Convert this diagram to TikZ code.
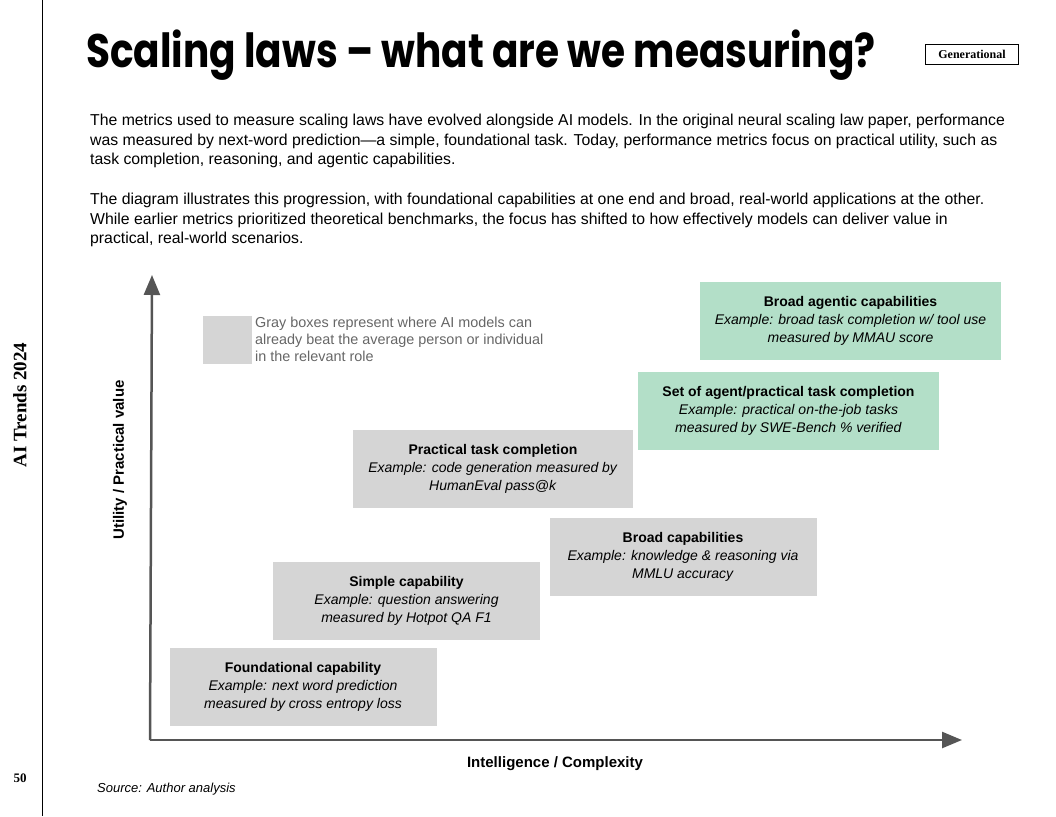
\documentclass[tikz,border=0pt]{standalone}
\usepackage{fontspec}
\setmainfont{Liberation Sans}
\newfontfamily\titlefont{Poppins}
\newfontfamily\sidefont{Liberation Serif}
\usetikzlibrary{arrows.meta,positioning}
\definecolor{boxgray}{HTML}{D5D5D5}
\definecolor{boxgreen}{HTML}{B3DFC8}
\definecolor{axisgray}{HTML}{555555}
\definecolor{notegray}{HTML}{666666}

\begin{document}
\begin{tikzpicture}[
    x=1pt,y=-1pt,
    capbox/.style={rectangle,fill=boxgray,align=center,inner sep=0pt,
                   minimum width=267pt,minimum height=78pt,
                   font=\fontsize{14}{18}\selectfont},
    agentbox/.style={capbox,fill=boxgreen,minimum width=301pt},
    para/.style={anchor=north west,align=left,inner sep=0pt,
                 font=\fontsize{15.8}{19.5}\selectfont},
    axislabel/.style={font=\fontsize{15}{18}\selectfont\bfseries},
    axis/.style={-{Triangle[length=20pt,width=16pt]},line width=2.5pt,axisgray}
  ]
    \useasboundingbox (0,0) rectangle (1056,816);

    % side bar
    \draw[line width=1pt] (42,0) -- (42,816);
    \node[rotate=90,font=\fontsize{19}{22}\sidefont\bfseries] (side) at (20,405) {AI Trends 2024};
    \node[font=\fontsize{13}{15}\sidefont\bfseries] (page) at (20,778) {50};

    % title
    \node[anchor=base west,inner sep=0pt,font=\fontsize{47}{52}\titlefont\bfseries] (title) at (86,67)
      {\scalebox{0.83}[1]{Scaling laws – what are we measuring?}};
    \node[draw,line width=0.8pt,minimum width=93pt,minimum height=20pt,inner sep=0pt,
          font=\fontsize{12}{14}\sidefont\bfseries] (gen) at (972,54) {Generational};

    % intro text
    \node[para] (intro) at (90,114) {The metrics used to measure scaling laws have evolved alongside AI models. In the original neural scaling law paper, performance\\
      was measured by next-word prediction---a simple, foundational task. Today, performance metrics focus on practical utility, such as\\
      task completion, reasoning, and agentic capabilities.};
    \node[para] (intro2) at (90,193) {The diagram illustrates this progression, with foundational capabilities at one end and broad, real-world applications at the other.\\
      While earlier metrics prioritized theoretical benchmarks, the focus has shifted to how effectively models can deliver value in\\
      practical, real-world scenarios.};

    % axes
    \coordinate (origin) at (150,740);
    \coordinate (ytip) at (152,275);
    \coordinate (xtip) at (962,740);
    \draw[axis] (origin) -- (ytip);
    \draw[axis] (origin) -- (xtip);
    \node[axislabel,rotate=90] (ylab) at (120,460) {Utility / Practical value};
    \node[axislabel] (xlab) at (555,764) {Intelligence / Complexity};

    % legend
    \node[fill=boxgray,minimum width=49pt,minimum height=48pt,inner sep=0pt] (key) at (227.5,340) {};
    \node[anchor=north west,align=left,inner sep=0pt,text=notegray,
          font=\fontsize{14.4}{17}\selectfont] (keytext) at (255,317)
      {Gray boxes represent where AI models can\\already beat the average person or individual\\in the relevant role};

    % capability boxes
    \node[capbox] (found) at (303,687) {\textbf{Foundational capability}\\\textit{Example: next word prediction}\\\textit{measured by cross entropy loss}};
    \node[capbox] (simple) at (406.5,601) {\textbf{Simple capability}\\\textit{Example: question answering}\\\textit{measured by Hotpot QA F1}};
    \node[capbox] (broad) at (683,557) {\textbf{Broad capabilities}\\\textit{Example: knowledge \& reasoning via}\\\textit{MMLU accuracy}};
    \node[capbox,minimum width=280pt] (practical) at (493,469) {\textbf{Practical task completion}\\\textit{Example: code generation measured by}\\\textit{HumanEval pass@k}};
    \node[agentbox] (agent) at (788.5,411) {\textbf{Set of agent/practical task completion}\\\textit{Example: practical on-the-job tasks}\\\textit{measured by SWE-Bench \% verified}};
    \node[agentbox] (agentic) at (850.5,321) {\textbf{Broad agentic capabilities}\\\textit{Example: broad task completion w/ tool use}\\\textit{measured by MMAU score}};

    % source
    \node[anchor=west,inner sep=0pt,font=\fontsize{13}{15}\selectfont\itshape] (src) at (97,789) {Source: Author analysis};
\end{tikzpicture}
\end{document}
